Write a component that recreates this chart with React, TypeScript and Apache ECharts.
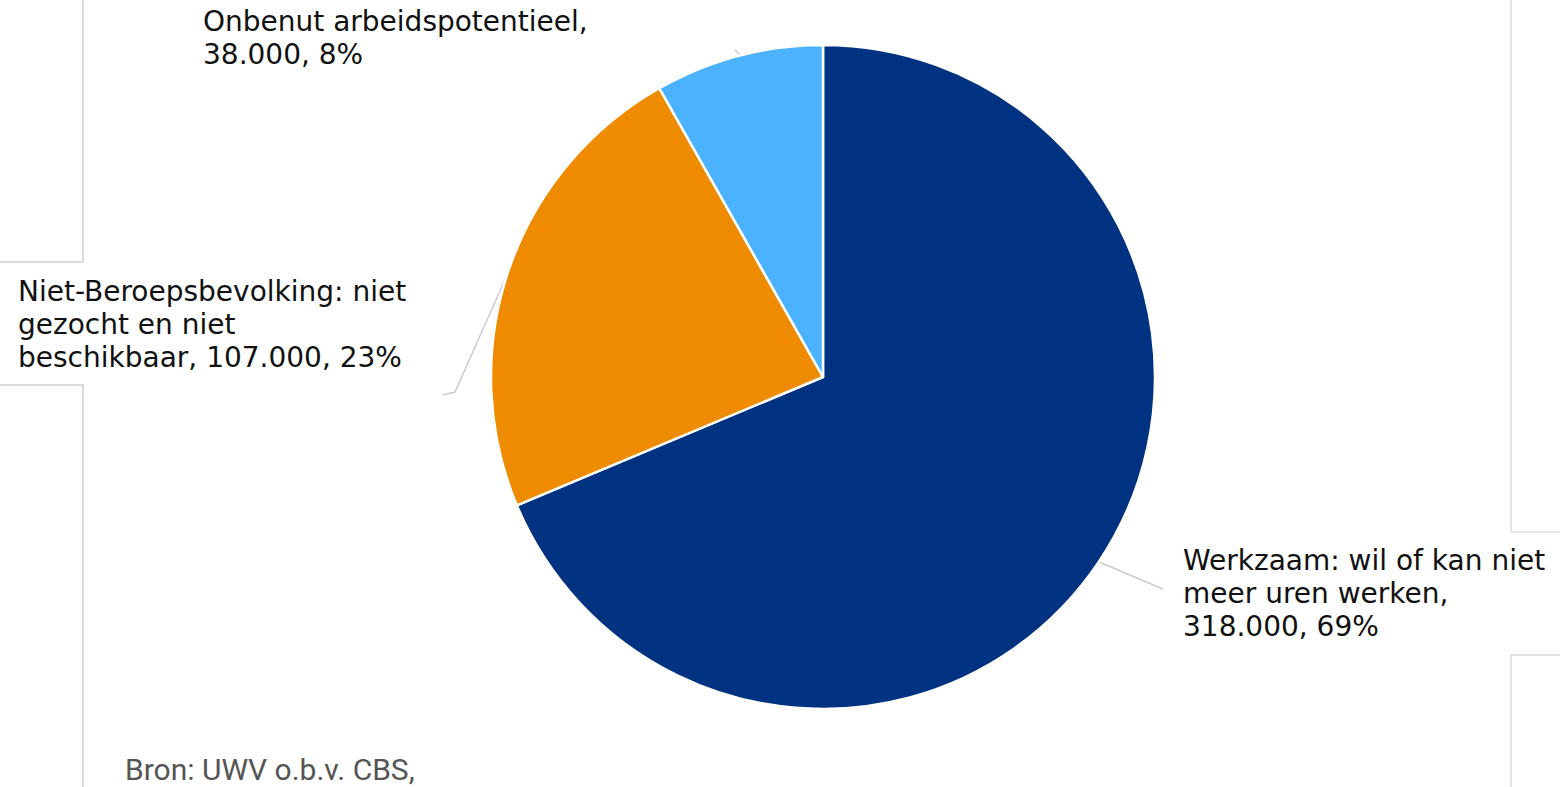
import React, { useEffect, useRef } from "react";
import * as echarts from "echarts";

const categories = [
  "Werkzaam: wil of kan niet meer uren werken",
  "Niet-Beroepsbevolking: niet gezocht en niet beschikbaar",
  "Onbenut arbeidspotentieel",
];
const values = [318000, 107000, 38000];
const labelPrefixes = [
  "Werkzaam: wil of kan niet\nmeer uren werken,\n",
  "Niet-Beroepsbevolking: niet\ngezocht en niet\nbeschikbaar, ",
  "Onbenut arbeidspotentieel,\n",
];
const colors = ["#003282", "#EE8B00", "#4AB2FF"];
const sourceText = "Bron: UWV o.b.v. CBS,";

const fmt = (v: number) => String(v).replace(/\B(?=(\d{3})+(?!\d))/g, ".");

export default function App() {
  const ref = useRef<HTMLDivElement>(null);
  useEffect(() => {
    if (!ref.current) return;
    const chart = echarts.init(ref.current, null, { renderer: "svg" });
    const labelPos = [
      { x: 1183, y: 544, line: [[1099, 562], [1163, 589]] },
      { x: 18, y: 275, line: [[511, 266], [455, 392], [443, 395]] },
      { x: 203, y: 5, line: [[741, 56], [735, 50]] },
    ];
    chart.setOption({
      animation: false,
      graphic: [
        { type: "polyline", shape: { points: [[0, 262], [83, 262], [83, 0]] }, style: { stroke: "#cfcfcf", lineWidth: 1.5, fill: "none" } },
        { type: "polyline", shape: { points: [[0, 385], [83, 385], [83, 787]] }, style: { stroke: "#cfcfcf", lineWidth: 1.5, fill: "none" } },
        { type: "polyline", shape: { points: [[1560, 532], [1511, 532], [1511, 0]] }, style: { stroke: "#dcdcdc", lineWidth: 1.5, fill: "none" } },
        { type: "polyline", shape: { points: [[1560, 655], [1511, 655], [1511, 787]] }, style: { stroke: "#dcdcdc", lineWidth: 1.5, fill: "none" } },
        {
          type: "text",
          left: 125,
          top: 754,
          style: { text: sourceText, font: "30px Roboto", fill: "#555555" },
        },
      ],
      series: [
        {
          type: "pie",
          center: [823, 377],
          radius: 332,
          startAngle: 90,
          clockwise: true,
          data: categories.map((c, i) => ({
            name: c,
            value: values[i],
            itemStyle: { color: colors[i] },
          })),
          itemStyle: { borderColor: "#ffffff", borderWidth: 2.5 },
          label: {
            show: true,
            formatter: (p: any) =>
              labelPrefixes[p.dataIndex] + fmt(p.value) + ", " + Math.round(p.percent) + "%",
            fontFamily: "'DejaVu Sans', Verdana, sans-serif",
            fontSize: 28,
            lineHeight: 33,
            color: "#111111",
          },
          labelLine: {
            show: true,
            lineStyle: { color: "#cccccc", width: 1.5 },
          },
          labelLayout: (params: any) => {
            const lp = labelPos[params.dataIndex];
            return {
              x: lp.x,
              y: lp.y,
              align: "left",
              verticalAlign: "top",
              labelLinePoints: lp.line,
            };
          },
          emphasis: { disabled: true },
        },
      ],
    });
    return () => chart.dispose();
  }, []);
  return (
    <div
      ref={ref}
      style={{ position: "absolute", left: 0, top: 0, width: 1560, height: 787, background: "#ffffff" }}
    />
  );
}
